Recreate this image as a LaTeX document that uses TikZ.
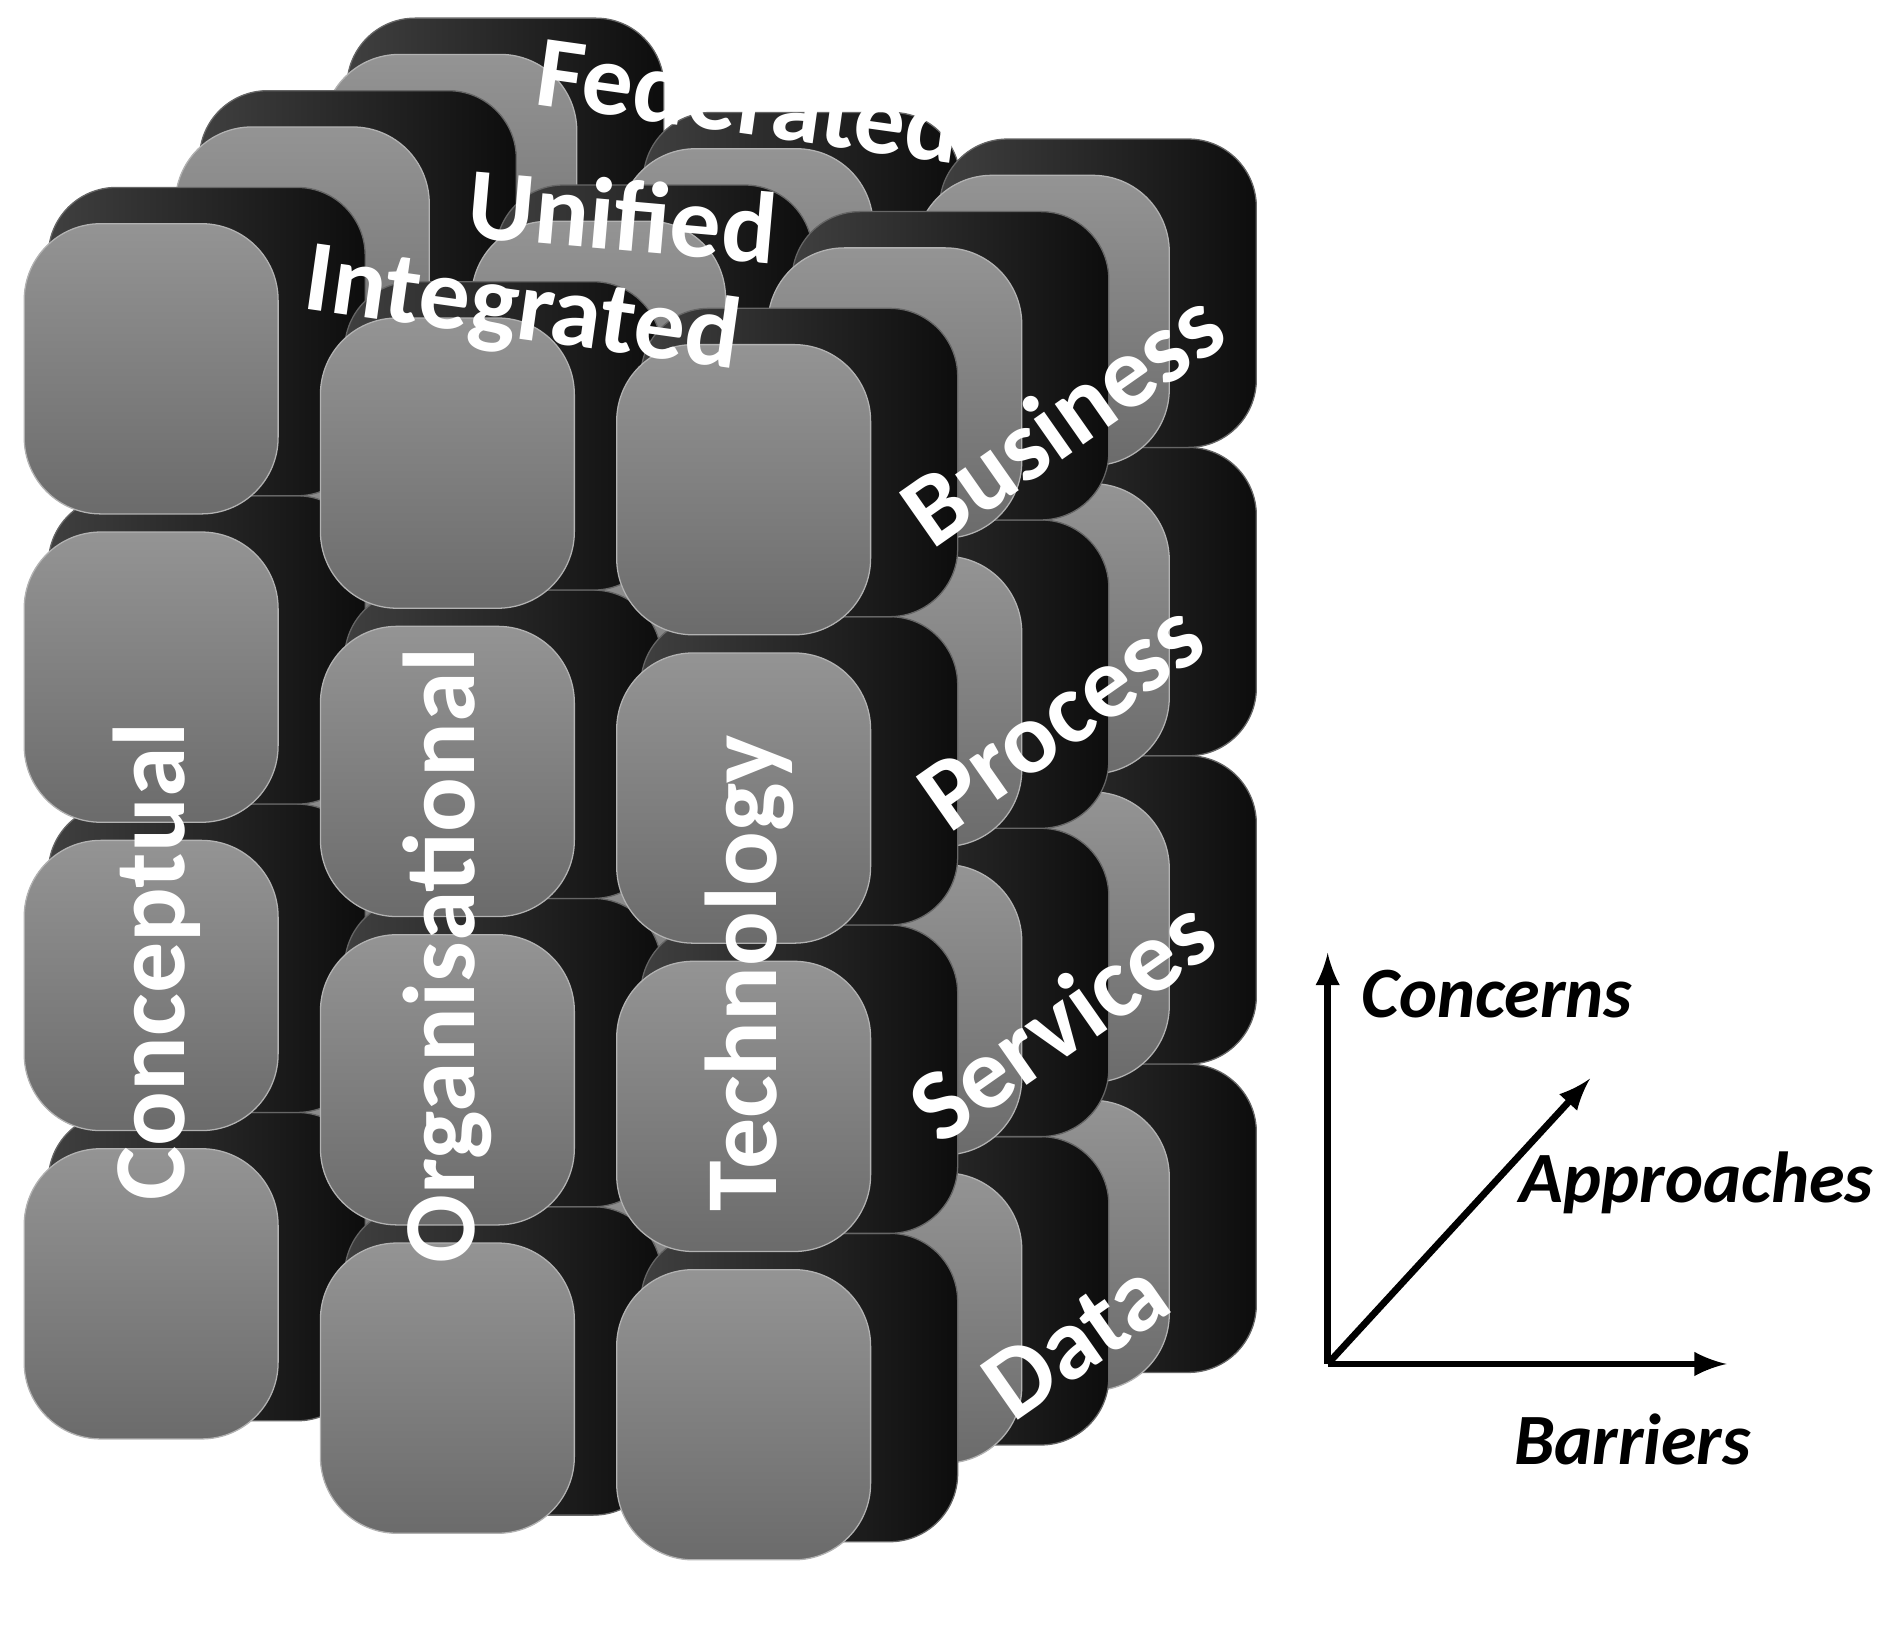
\documentclass[tikz,border=0pt]{standalone}
\usepackage{fontspec}
\setmainfont{Carlito}
\begin{document}
\begin{tikzpicture}[x=0.1mm,y=-0.1mm,
 side/.style={left color=black!75,right color=black!95,rounded corners=16,draw=black!60,line width=0.3pt},
 front/.style={top color=black!42,bottom color=black!58,rounded corners=18,draw=black!30,line width=0.3pt},
 lab/.style={text=white,font=\bfseries\fontsize{24}{24}\selectfont},
 ax/.style={font=\bfseries\itshape\fontsize{17}{17}\selectfont},
 arr/.style={-latex,line width=1.6pt}]
\useasboundingbox (0,0) rectangle (1568,1350);
\foreach \k/\dx/\dy in {2/247/-140,1/125/-80,0/0/0}{
 \foreach \j in {3,2,1,0}{
  \foreach \i/\cy in {0/0,1/78,2/100}{
   \pgfmathsetmacro\X{20+245*\i+\dx}
   \pgfmathsetmacro\Y{185+255*\j+\cy+\dy}
   \fill[side] (\X+20,\Y-30) rectangle ++(262,255);
   \fill[front] (\X,\Y) rectangle ++(210,240);
  }}}
\node[lab,rotate=-8] (fed) at (620,82) {Federated};
\node[lab,rotate=-5] (uni) at (515,178) {Unified};
\node[lab,rotate=-8] (int) at (432,258) {Integrated};
\node[lab,rotate=35] (bus) at (878,345) {Business};
\node[lab,rotate=35] (pro) at (878,592) {Process};
\node[lab,rotate=35] (ser) at (878,842) {Services};
\node[lab,rotate=35] (dat) at (890,1108) {Data};
\node[lab,rotate=90] (con) at (130,795) {Conceptual};
\node[lab,rotate=90] (org) at (370,790) {Organisational};
\node[lab,rotate=90] (tec) at (620,805) {Technology};
\coordinate (o) at (1098,1128);
\coordinate (up) at (1098,788);
\coordinate (rt) at (1428,1128);
\coordinate (dg) at (1315,892);
\draw[arr] (o) -- (up);
\draw[arr] (o) -- (rt);
\draw[arr] (o) -- (dg);
\node[ax] (lc) at (1238,822) {Concerns};
\node[ax] (la) at (1403,978) {Approaches};
\node[ax] (lb) at (1350,1190) {Barriers};
\end{tikzpicture}
\end{document}
